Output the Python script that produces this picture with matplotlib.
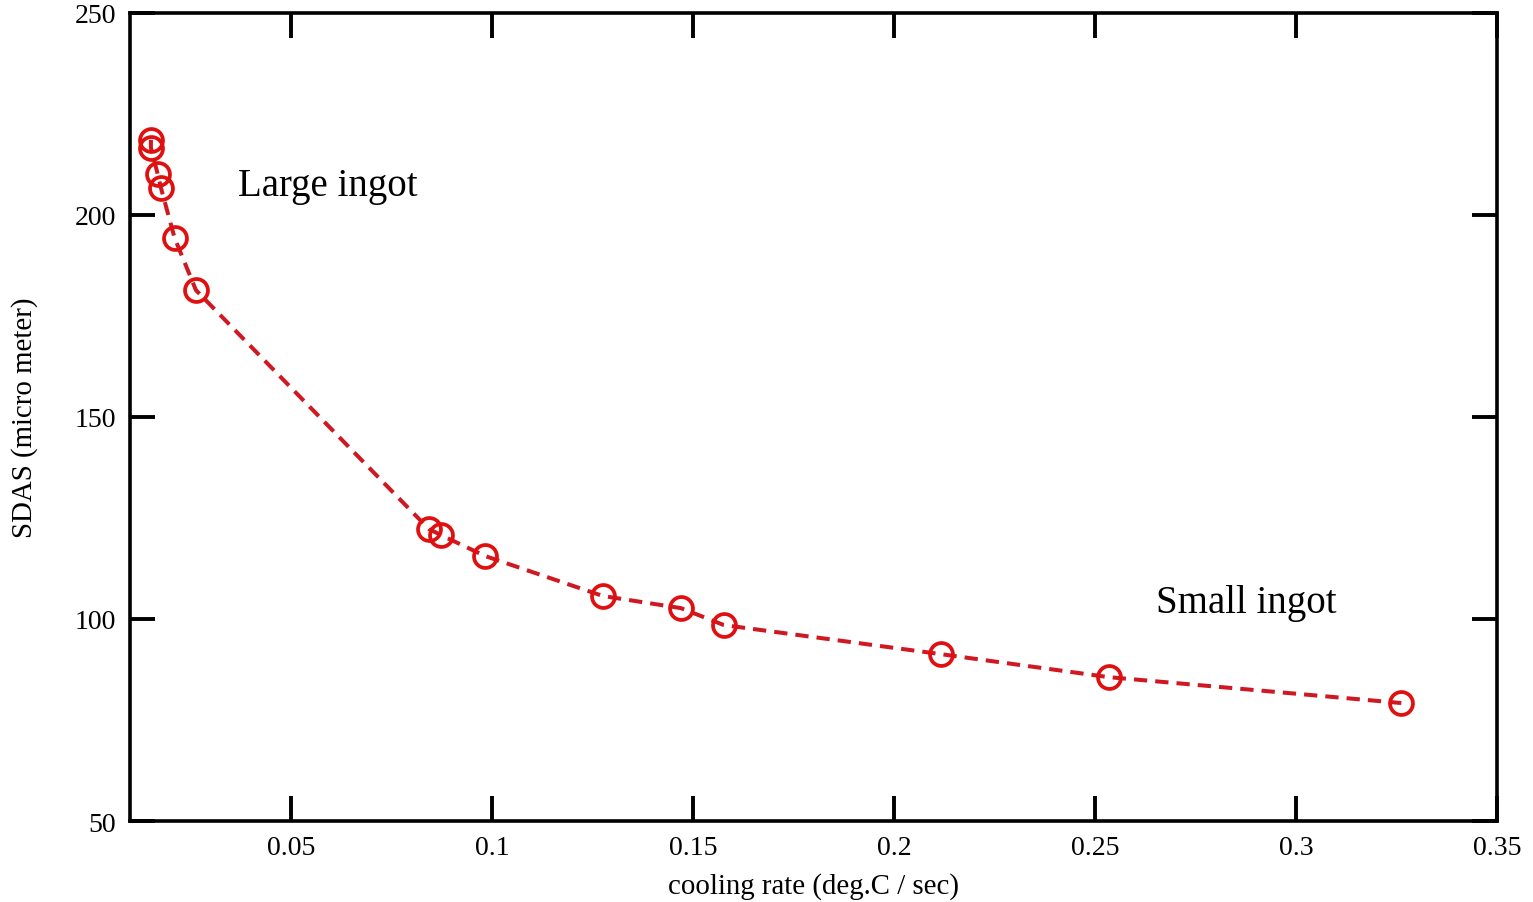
import matplotlib
matplotlib.use("Agg")
import matplotlib.pyplot as plt

# cooling rate (deg.C / sec) vs SDAS (micro meter)
cooling_rate = [0.0152, 0.0152, 0.0169, 0.0177, 0.0211, 0.0264, 0.0843, 0.0873,
                0.0983, 0.1276, 0.1470, 0.1577, 0.2117, 0.2535, 0.3262]
sdas = [218.6, 216.6, 210.1, 206.7, 194.3, 181.4, 122.3, 120.8,
        115.6, 105.7, 102.7, 98.5, 91.3, 85.6, 79.2]

xticks = [0.05, 0.1, 0.15, 0.2, 0.25, 0.3, 0.35]
xtick_labels = ["0.05", "0.1", "0.15", "0.2", "0.25", "0.3", "0.35"]
yticks = [50, 100, 150, 200, 250]

plt.rcParams['font.family'] = ['Liberation Serif', 'DejaVu Serif']

fig = plt.figure(figsize=(15.33, 9.03), dpi=100)
ax = fig.add_axes([0.0848, 0.0897, 0.8917, 0.8948])

ax.plot(cooling_rate, sdas, linestyle=(0, (3.3, 2.0)), color="#d01822", linewidth=2.9,
        marker="o", markersize=16.5, markerfacecolor="none",
        markeredgecolor="#e01010", markeredgewidth=2.7)

ax.set_xlim(0.01, 0.35)
ax.set_ylim(50, 250)
ax.set_xticks(xticks)
ax.set_xticklabels(xtick_labels)
ax.set_yticks(yticks)
ax.tick_params(direction="in", length=18, width=2.8, labelsize=20,
               top=True, right=True, pad=10)
for s in ax.spines.values():
    s.set_linewidth(2.6)

ax.set_xlabel("cooling rate (deg.C / sec)", fontsize=20.8, labelpad=9)
ax.set_ylabel("SDAS (micro meter)", fontsize=20.8, labelpad=26)

ax.text(0.0368, 207.2, "Large ingot", fontsize=28, va="center")
ax.text(0.2652, 104.2, "Small ingot", fontsize=28, va="center")

fig.savefig("out.png", dpi=100)
